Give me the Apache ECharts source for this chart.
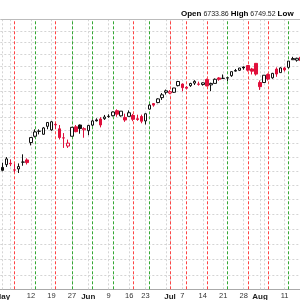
<!DOCTYPE html>
<html><head><meta charset="utf-8">
<script src="https://cdn.jsdelivr.net/npm/echarts@6/dist/echarts.min.js"></script>
<style>html,body{margin:0;padding:0;background:#fff}#c{width:300px;height:300px}</style>
</head><body><div id="c"></div>
<script>
const dates = ['05-01','05-02','05-05','05-06','05-07','05-08','05-09','05-12','05-13','05-14','05-15','05-16','05-19','05-20','05-21','05-22','05-23','05-27','05-28','05-29','05-30',
'06-02','06-03','06-04','06-05','06-06','06-09','06-10','06-11','06-12','06-13','06-16','06-17','06-18','06-20','06-23','06-24','06-25','06-26','06-27','06-30',
'07-01','07-02','07-03','07-07','07-08','07-09','07-10','07-11','07-14','07-15','07-16','07-17','07-18','07-21','07-22','07-23','07-24','07-25','07-28','07-29','07-30','07-31',
'08-01','08-04','08-05','08-06','08-07','08-08','08-11','08-12','08-13','08-14','08-15'];
const opens = [5625,5645,5655,5606,5614,5663,5679,5807,5854,5891,5869,5929,5902,5944,5910,5841,5781,5854,5925,5939,5903,
5896,5938,5978,5985,5987,6004,6010,6049,6009,5997,6005,6012,5987,6004,5970,6061,6104,6112,6151,6193,
6187,6193,6246,6259,6233,6246,6266,6256,6255,6295,6252,6264,6308,6304,6307,6326,6368,6370,6397,6409,6381,6427,
6271,6271,6336,6309,6380,6351,6389,6394,6457,6453,6478];
const highs = [5659,5700,5683,5649,5654,5720,5691,5845,5906,5906,5924,5958,5969,5953,5939,5878,5829,5924,5939,5943,5922,
5937,5981,5990,5999,6016,6021,6043,6059,6045,6026,6051,6024,6018,6018,6028,6101,6108,6146,6187,6215,
6210,6227,6284,6263,6242,6269,6290,6278,6272,6303,6270,6304,6315,6336,6316,6360,6381,6390,6401,6410,6390,6427,
6288,6330,6344,6349,6394,6395,6398,6446,6481,6474,6481];
const lows = [5597,5628,5634,5590,5585,5637,5646,5786,5845,5868,5865,5907,5895,5909,5830,5767,5767,5854,5884,5873,5843,
5862,5929,5966,5921,5978,5994,6005,6002,6003,5963,6005,5968,5971,5952,5943,6058,6080,6107,6133,6175,
6178,6188,6240,6201,6216,6236,6251,6246,6246,6241,6202,6264,6285,6303,6282,6317,6360,6364,6375,6360,6336,6327,
6212,6271,6287,6301,6317,6351,6360,6385,6456,6441,6444];
const closes = [5604.14,5686.67,5650.38,5606.91,5631.28,5663.94,5659.91,5844.19,5886.55,5892.58,5916.93,5958.38,5963.60,5940.46,5844.61,5842.01,5802.82,5921.54,5888.55,5912.17,5911.69,
5935.94,5970.37,5970.81,5939.30,6000.36,6005.88,6038.81,6022.24,6045.26,5976.97,6033.11,5982.72,5980.87,5967.84,6025.17,6092.18,6092.16,6141.02,6173.07,6204.95,
6198.01,6227.42,6279.35,6229.98,6225.52,6263.26,6280.46,6259.75,6268.56,6243.76,6263.70,6297.36,6296.79,6305.60,6309.62,6358.91,6363.35,6388.64,6389.77,6370.86,6362.90,6339.39,
6238.01,6329.94,6299.19,6345.06,6340.00,6389.45,6373.45,6445.76,6466.58,6468.54,6449.80];
const priorClose = 5569.06;

const tickDates = ['05-01','05-12','05-19','05-27','06-02','06-09','06-16','06-23','07-01','07-07','07-14','07-21','07-28','08-01','08-11'];
const tickLabels = ['May','12','19','27','Jun','9','16','23','Jul','7','14','21','28','Aug','11'];
const gridDates = ['05-01','05-05','05-12','05-19','05-27','06-02','06-09','06-16','06-23','06-30','07-01','07-07','07-14','07-21','07-28','08-01','08-04','08-11'];
const priceLevels = [4900,5000,5100,5200,5300,5400,5500,5600,5700,5800,5900,6000,6100,6200,6300,6400,6500,6600,6700];
const markerDates = ['05-06','05-13','05-20','05-27','06-03','06-10','06-17','06-24','07-01','07-08','07-15','07-22','07-29','08-05','08-12'];
const markerColors = ['red','green','red','green','green','green','red','green','red','red','red','green','red','red','green'];
const headerOpen = '6733.86', headerHigh = '6749.52';

const RED = '#e0103c', BLACK = '#111';
const candleData = dates.map((d, i) => {
  const prev = i === 0 ? priorClose : closes[i - 1];
  const col = closes[i] >= prev ? BLACK : RED;
  const fill = closes[i] > opens[i] ? '#ffffff' : col;
  return { value: [opens[i], closes[i], lows[i], highs[i]],
    itemStyle: { color: fill, color0: fill, borderColor: col, borderColor0: col, borderWidth: 1 } };
});
const tickMap = {}; tickDates.forEach((d, i) => tickMap[d] = tickLabels[i]);
const lineColors = { red: '#ff4444', green: '#33a833' };
const markLines = [];
priceLevels.forEach(p => markLines.push({ yAxis: p, lineStyle: { color: '#d4d4d4', type: [2, 2], width: 1 } }));
gridDates.forEach(d => markLines.push({ xAxis: dates.indexOf(d), lineStyle: { color: '#d4d4d4', type: [2, 2], width: 1 } }));
markerDates.forEach((d, i) => markLines.push({ xAxis: dates.indexOf(d), lineStyle: { color: lineColors[markerColors[i]], type: [3, 2], width: 1 } }));
markLines.push({ yAxis: 6800, lineStyle: { color: '#bbbbbb', type: 'solid', width: 1 } });

const chart = echarts.init(document.getElementById('c'), null, { renderer: 'canvas' });
chart.setOption({
  animation: false,
  backgroundColor: '#fff',
  grid: { left: 0.32, top: 19.3, width: dates.length * 4.09, height: 270, containLabel: false, outerBoundsMode: 'none' },
  xAxis: {
    type: 'category', data: dates, boundaryGap: true,
    axisLine: { lineStyle: { color: '#aaa', width: 1 } },
    axisTick: { show: false },
    splitLine: { show: false },
    axisLabel: {
      interval: (idx, val) => tickMap[val] !== undefined,
      formatter: (val) => { const l = tickMap[val] || ''; return /^[A-Z]/.test(l) ? '{m|' + l + '}' : l; },
      color: '#333', fontFamily: 'Liberation Sans', fontSize: 7.5, margin: 3,
      rich: { m: { fontWeight: 'bold', fontSize: 8, color: '#222', fontFamily: 'Liberation Sans' } }
    }
  },
  yAxis: {
    type: 'log', min: 4812, max: 6800, logBase: 10,
    axisLine: { show: false }, axisTick: { show: false }, axisLabel: { show: false }, splitLine: { show: false }
  },
  graphic: [{
    type: 'text', left: 181, top: 10,
    style: {
      text: '{b|Open} ' + headerOpen + ' {b|High} ' + headerHigh + ' {b|Low}',
      fontFamily: 'Liberation Sans', fontSize: 7, fill: '#222',
      rich: { b: { fontWeight: 'bold', fontSize: 8, fontFamily: 'Liberation Sans', fill: '#000' } }
    }
  }],
  series: [{
    type: 'candlestick', data: candleData, barWidth: 3, z: 3,
    markLine: { silent: true, symbol: ['none', 'none'], label: { show: false }, z: 1, animation: false, emphasis: { disabled: true }, data: markLines }
  }]
});
</script></body></html>
